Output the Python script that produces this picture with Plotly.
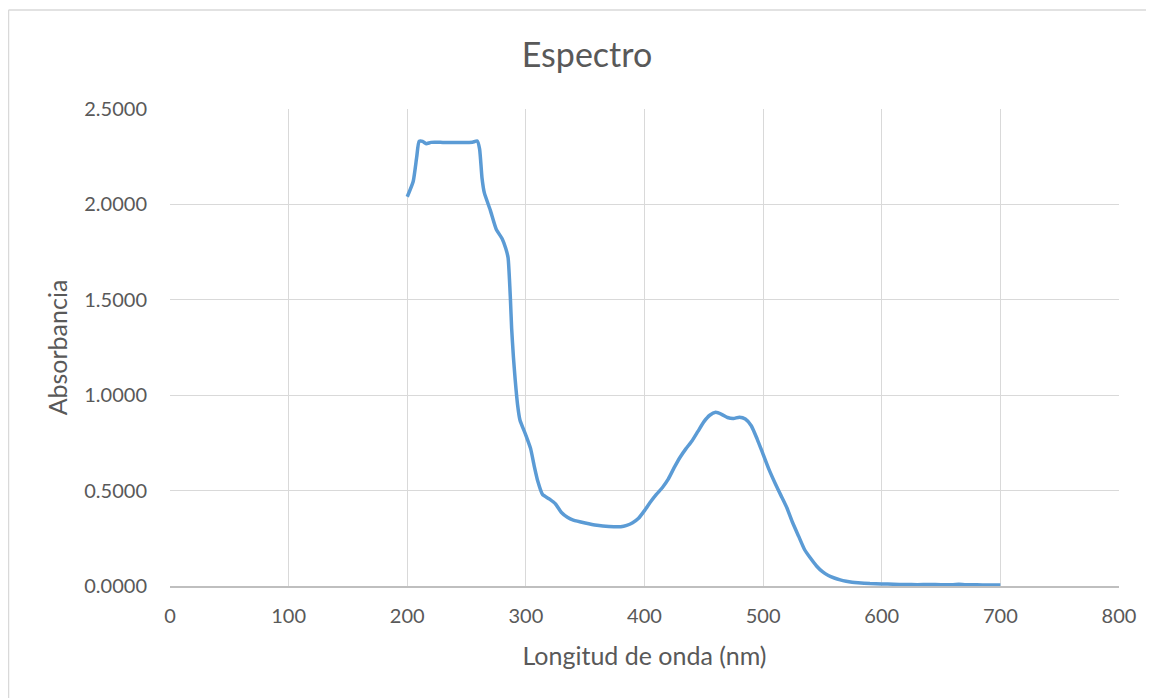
import plotly.graph_objects as go

# Wavelength (nm) and absorbance
wavelength = [200, 205, 208, 210, 213, 216, 220, 230, 240, 250, 255, 259, 261, 263, 265,
              270, 275, 280, 283, 285, 287, 288, 289.5, 291, 293, 295, 300, 304, 307, 310,
              314, 320, 325, 330, 335, 340, 350, 360, 370, 380, 385, 390, 395, 400, 405,
              410, 415, 420, 425, 430, 435, 440, 445, 450, 455, 460, 465, 470, 475, 480,
              485, 490, 495, 500, 505, 510, 515, 520, 525, 530, 535, 540, 545, 550, 555,
              560, 565, 570, 575, 580, 590, 600, 610, 620, 630, 640, 650, 660, 665, 670,
              680, 690, 700]
absorbance = [2.04, 2.12, 2.25, 2.33, 2.33, 2.318, 2.325, 2.325, 2.325, 2.325, 2.326, 2.332, 2.29, 2.14, 2.06,
              1.97, 1.87, 1.82, 1.77, 1.72, 1.50, 1.35, 1.20, 1.08, 0.95, 0.87, 0.79, 0.72, 0.63, 0.55,
              0.48, 0.455, 0.43, 0.385, 0.36, 0.345, 0.33, 0.318, 0.312, 0.311, 0.318, 0.332, 0.355, 0.395, 0.44,
              0.48, 0.515, 0.56, 0.62, 0.675, 0.72, 0.76, 0.81, 0.86, 0.895, 0.91, 0.90, 0.883, 0.878, 0.885,
              0.875, 0.84, 0.77, 0.69, 0.61, 0.54, 0.475, 0.41, 0.33, 0.26, 0.19, 0.145, 0.105, 0.075, 0.055,
              0.042, 0.032, 0.025, 0.02, 0.017, 0.013, 0.011, 0.009, 0.008, 0.007, 0.008, 0.007, 0.007, 0.009, 0.007,
              0.006, 0.005, 0.005]

title_text = "Espectro"
x_title = "Longitud de onda (nm)"
y_title = "Absorbancia"

FONT = "Lato, 'Open Sans', sans-serif"
TXT = "#595959"
GRID = "#D9D9D9"

# the page body has an 8px margin, so the figure is laid out 8px smaller
W, H = 1146, 690
L, R, T, B = 162, 35, 101, 112
PW, PH = W - L - R, H - T - B

fig = go.Figure()
fig.add_trace(go.Scatter(
    x=wavelength, y=absorbance, mode="lines",
    line=dict(color="#5B9BD5", width=3.5, shape="spline", smoothing=0.5),
    showlegend=False, hoverinfo="x+y"))

fig.update_layout(
    width=W, height=H,
    margin=dict(l=L, r=R, t=T, b=B),
    paper_bgcolor="white", plot_bgcolor="white",
    font=dict(family=FONT, color=TXT, size=20),
    title=dict(text=title_text, x=(579 - L) / PW, xref="paper", xanchor="center",
               y=1 - 47 / H, yanchor="middle",
               font=dict(size=34, color=TXT, family=FONT)),
    xaxis=dict(range=[0, 800], dtick=100, tick0=0, showgrid=True, gridcolor=GRID, gridwidth=1.3,
               zeroline=False, showline=True, linecolor="#BFBFBF", linewidth=1.5,
               ticks="", ticklabelstandoff=11, tickfont=dict(size=20, color=TXT),
               title=dict(text=x_title, font=dict(size=25, color=TXT), standoff=22)),
    yaxis=dict(range=[0, 2.5], dtick=0.5, tick0=0, tickformat=".4f", showgrid=True, gridcolor=GRID,
               gridwidth=1.3, zeroline=False, showline=False, ticks="", ticklabelstandoff=22,
               tickfont=dict(size=20, color=TXT),
               title=dict(text=y_title, font=dict(size=25, color=TXT), standoff=9)),
    shapes=[
        dict(type="line", xref="paper", yref="paper",
             x0=(0.5 - L) / PW, x1=(W + 10 - L) / PW,
             y0=(PH + T - 2) / PH, y1=(PH + T - 2) / PH,
             line=dict(color="#D9D9D9", width=1.5)),
        dict(type="line", xref="paper", yref="paper",
             x0=(0.5 - L) / PW, x1=(0.5 - L) / PW,
             y0=(PH + T - 2) / PH, y1=-(B + 10) / PH,
             line=dict(color="#D9D9D9", width=1.5)),
    ],
)

fig.write_html("out.html")
